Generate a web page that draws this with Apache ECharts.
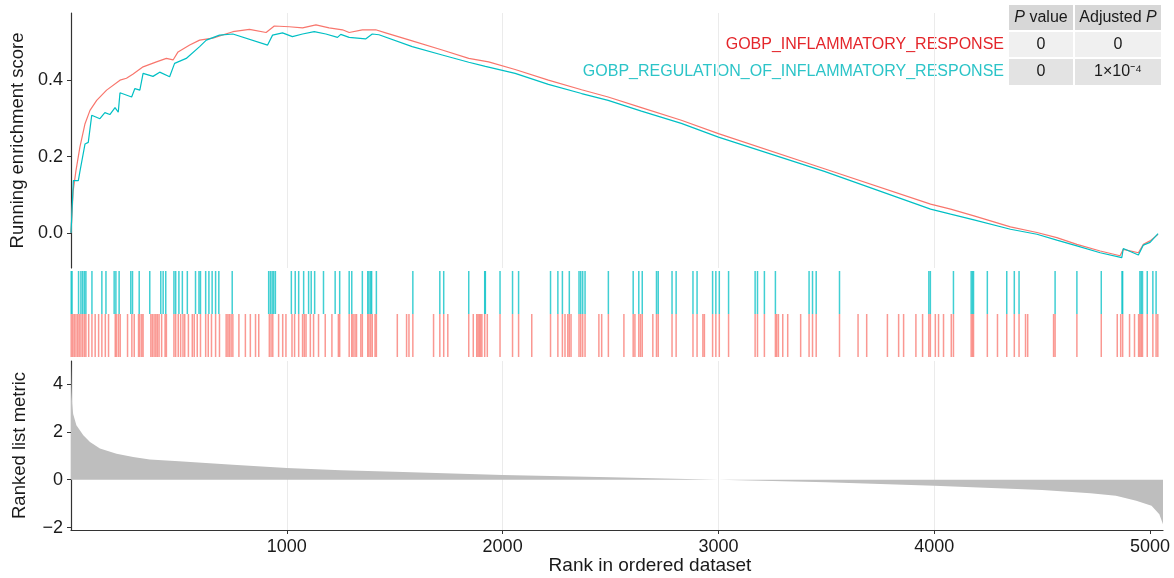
<!DOCTYPE html>
<html>
<head>
<meta charset="utf-8">
<script src="https://cdn.jsdelivr.net/npm/echarts@6/dist/echarts.min.js"></script>
<style>
  html, body { margin: 0; padding: 0; background: #fff; }
  #chart { width: 1174px; height: 578px; }
</style>
</head>
<body>
<div id="chart"></div>
<script>
// Gene set names and their test statistics
const setNames = ['GOBP_INFLAMMATORY_RESPONSE', 'GOBP_REGULATION_OF_INFLAMMATORY_RESPONSE'];
const pValues = ['0', '0'];
const adjPValues = ['0', '1×10⁻⁴'];

// Running enrichment score, [rank, score]
const esInflammatory = [
  [0,0],[10,0.11],[23,0.163],[41,0.224],[65,0.286],[88,0.321],[119,0.347],[165,0.374],[227,0.40],
  [257,0.405],[288,0.416],[334,0.435],[396,0.448],[442,0.457],[473,0.453],[496,0.474],[550,0.492],
  [596,0.505],[657,0.51],[750,0.527],[827,0.533],[904,0.525],[942,0.542],[1011,0.540],[1073,0.537],
  [1135,0.545],[1196,0.537],[1258,0.532],[1289,0.525],[1350,0.532],[1412,0.532],[1458,0.524],
  [1581,0.503],[1720,0.479],[1843,0.457],[1935,0.448],[2058,0.428],[2212,0.400],[2366,0.375],
  [2489,0.356],[2643,0.328],[2828,0.295],[3000,0.26],[3491,0.168],[3983,0.0754],[4076,0.0623],
  [4184,0.0447],[4353,0.0158],[4476,0.0009],[4568,-0.0123],[4661,-0.03],[4769,-0.0474],[4861,-0.06],
  [4876,-0.043],[4946,-0.052],[4969,-0.030],[5000,-0.021],[5037,-0.004]
];
const esRegulation = [
  [0,0],[11,0.137],[34,0.137],[41,0.16],[65,0.233],[80,0.237],[96,0.308],[134,0.299],[157,0.315],
  [180,0.31],[204,0.328],[219,0.316],[227,0.367],[281,0.356],[296,0.378],[319,0.374],[334,0.418],
  [380,0.41],[411,0.421],[457,0.409],[480,0.444],[534,0.457],[596,0.488],[627,0.505],[688,0.518],
  [750,0.521],[911,0.492],[934,0.518],[980,0.524],[1026,0.514],[1073,0.521],[1127,0.527],[1181,0.521],
  [1235,0.512],[1250,0.52],[1289,0.512],[1365,0.508],[1396,0.521],[1427,0.519],[1581,0.488],
  [1720,0.466],[1843,0.447],[1920,0.436],[2058,0.418],[2212,0.389],[2366,0.365],[2489,0.347],
  [2643,0.319],[2828,0.287],[3000,0.251],[3491,0.161],[3983,0.0623],[4076,0.049],[4184,0.0342],
  [4353,0.0096],[4476,-0.0035],[4568,-0.019],[4661,-0.034],[4769,-0.052],[4869,-0.065],[4876,-0.041],
  [4946,-0.058],[4969,-0.032],[5000,-0.025],[5037,-0.002]
];

// Ranks of the genes belonging to each set
const hitsRegulation = [
  1,5,35,46,54,62,69,97,143,162,200,208,223,277,285,316,365,416,427,439,477,485,500,516,539,577,593,
  600,624,639,654,670,685,747,916,924,932,939,947,1021,1039,1055,1078,1101,1113,1129,1170,1224,1245,
  1289,1301,1350,1375,1381,1389,1393,1415,1584,1709,1727,1843,1917,1920,1988,2046,2074,2222,2256,
  2277,2309,2354,2362,2371,2382,2490,2605,2631,2647,2713,2721,2785,2804,2882,2901,2973,2988,3004,
  3047,3170,3181,3213,3264,3420,3436,3453,3561,3975,3982,4089,4171,4177,4182,4246,4336,4371,4393,
  4560,4661,4774,4870,4873,4953,4959,4965,4987,5013,5028
];
const hitsInflammatory = [
  1,8,15,23,31,38,46,54,62,69,82,97,112,128,143,159,174,205,211,220,228,262,282,293,313,319,328,334,
  370,377,385,393,400,408,420,436,442,477,485,497,508,519,527,544,562,571,585,600,624,636,651,670,
  688,719,727,734,742,750,778,808,831,855,870,919,927,935,962,981,996,1024,1036,1055,1073,1081,1089,
  1109,1124,1147,1178,1209,1239,1245,1289,1301,1307,1316,1323,1343,1350,1375,1381,1389,1396,1409,
  1415,1512,1555,1566,1584,1680,1709,1727,1746,1843,1864,1880,1886,1892,1898,1904,1917,1929,1988,
  2046,2074,2135,2222,2256,2277,2289,2302,2309,2317,2354,2362,2371,2382,2446,2459,2490,2562,2605,
  2613,2631,2639,2647,2696,2713,2721,2785,2804,2882,2901,2928,2935,2973,2988,3004,3047,3170,3181,
  3213,3264,3270,3278,3298,3321,3381,3420,3436,3453,3561,3647,3687,3783,3835,3858,3915,3946,3975,
  3982,4005,4020,4043,4079,4089,4171,4177,4182,4246,4293,4336,4371,4393,4423,4433,4553,4560,4661,
  4774,4848,4864,4873,4905,4928,4947,4953,4959,4965,4987,5013,5028,5036
];

// Ranked list metric, [rank, metric]
const rankedMetric = [
  [0,4.95],[2,4.0],[5,3.2],[10,2.75],[25,2.28],[57,1.86],[88,1.58],[134,1.30],[211,1.09],[288,0.95],
  [365,0.85],[500,0.77],[750,0.63],[1000,0.49],[1250,0.40],[1500,0.33],[2000,0.20],[2500,0.10],
  [3000,0.0],[3500,-0.11],[4000,-0.25],[4500,-0.43],[4724,-0.56],[4842,-0.67],[4936,-0.88],
  [5007,-1.09],[5043,-1.44],[5060,-1.86]
];

// Axis ticks
const rankTicks = [1000, 2000, 3000, 4000, 5000];
const esTicks = [0, 0.2, 0.4];
const metricTicks = [-2, 0, 2, 4];

const RED = '#F8766D';
const CYAN = '#00BFC4';
const RED_TEXT = '#E4262B';
const CYAN_TEXT = '#2CC4C8';
const FONT = '"Liberation Sans", Arial, sans-serif';
const AXIS_COLOR = '#333333';
const GRID_COLOR = '#EBEBEB';
const N_RANKS = 5060;

const chart = echarts.init(document.getElementById('chart'), null, { renderer: 'canvas' });

const gridBox = { left: 71, right: 11 };

function rankAxis(gridIndex, showGrid, showLabels) {
  return {
    type: 'value', gridIndex, min: 0, max: N_RANKS, interval: 500,
    axisLine: { show: showLabels, onZero: false, lineStyle: { color: AXIS_COLOR, width: 1.2 } },
    axisTick: { show: showLabels, length: 4, customValues: rankTicks, lineStyle: { color: AXIS_COLOR } },
    axisLabel: {
      show: showLabels, customValues: rankTicks, margin: 8,
      color: '#1a1a1a', fontSize: 18, fontFamily: FONT,
      formatter: v => String(v)
    },
    splitLine: { show: showGrid, showMaxLine: false, lineStyle: { color: GRID_COLOR, width: 1 } }
  };
}

function hitSeries(hits, color, lo, hi) {
  return {
    type: 'custom', xAxisIndex: 1, yAxisIndex: 1,
    data: hits.map(r => [r]),
    encode: { x: 0 },
    silent: true,
    renderItem: (params, api) => {
      const a = api.coord([api.value(0), lo]);
      const b = api.coord([api.value(0), hi]);
      return {
        type: 'line',
        shape: { x1: a[0], y1: a[1], x2: b[0], y2: b[1] },
        style: { stroke: color, lineWidth: 1.5, opacity: 0.75 }
      };
    }
  };
}

// Table of p-values at the top right
const tableCols = [{ x: 1009, w: 64 }, { x: 1075, w: 86 }];
const tableRows = [{ y: 5, h: 25, fill: '#D7D7D7' }, { y: 32, h: 25, fill: '#F0F0F0' }, { y: 59, h: 26, fill: '#E3E3E3' }];
const graphics = [];
tableRows.forEach(row => {
  tableCols.forEach(col => {
    graphics.push({ type: 'rect', shape: { x: col.x, y: row.y, width: col.w, height: row.h }, style: { fill: row.fill }, silent: true });
  });
});
const cellText = (col, row, text, rich) => ({
  type: 'text',
  x: tableCols[col].x + tableCols[col].w / 2,
  y: tableRows[row].y + tableRows[row].h / 2,
  style: {
    text, rich: rich || {}, align: 'center', verticalAlign: 'middle',
    fontSize: 16, fontFamily: FONT, fill: '#1a1a1a'
  },
  silent: true
});
const italicRich = { i: { fontStyle: 'italic', fontSize: 16, fontFamily: FONT, fill: '#1a1a1a' } };
graphics.push(cellText(0, 0, '{i|P} value', italicRich));
graphics.push(cellText(1, 0, 'Adjusted {i|P}', italicRich));
graphics.push(cellText(0, 1, pValues[0]));
graphics.push(cellText(1, 1, adjPValues[0]));
graphics.push(cellText(0, 2, pValues[1]));
graphics.push(cellText(1, 2, adjPValues[1]));
[RED_TEXT, CYAN_TEXT].forEach((c, i) => {
  graphics.push({
    type: 'text', x: 1004, y: tableRows[i + 1].y + tableRows[i + 1].h / 2,
    style: { text: setNames[i], align: 'right', verticalAlign: 'middle', fontSize: 16, fontFamily: FONT, fill: c },
    silent: true
  });
});
// x-axis title
graphics.push({
  type: 'text', x: 650, y: 566,
  style: { text: 'Rank in ordered dataset', align: 'center', verticalAlign: 'middle', fontSize: 19, fontFamily: FONT, fill: '#1a1a1a' },
  silent: true
});

const option = {
  backgroundColor: '#ffffff',
  animation: false,
  grid: [
    { ...gridBox, top: 13, height: 255 },
    { ...gridBox, top: 271, height: 86 },
    { ...gridBox, top: 361, height: 169 }
  ],
  xAxis: [rankAxis(0, true, false), rankAxis(1, false, false), rankAxis(2, true, true)],
  yAxis: [
    {
      type: 'value', gridIndex: 0, min: -0.092, max: 0.576,
      axisLine: { show: true, lineStyle: { color: AXIS_COLOR, width: 1.2 } },
      axisTick: { show: true, length: 4, customValues: esTicks, lineStyle: { color: AXIS_COLOR } },
      axisLabel: { customValues: esTicks, margin: 8, color: '#1a1a1a', fontSize: 18, fontFamily: FONT, formatter: v => v.toFixed(1) },
      splitLine: { show: false },
      name: 'Running enrichment score', nameLocation: 'middle', nameGap: 42, nameRotate: 90,
      nameTextStyle: { color: '#1a1a1a', fontSize: 18.5, fontFamily: FONT }
    },
    { type: 'value', gridIndex: 1, min: 0, max: 2, show: false },
    {
      type: 'value', gridIndex: 2, min: -2.1, max: 4.96,
      axisLine: { show: true, onZero: false, lineStyle: { color: AXIS_COLOR, width: 1.2 } },
      axisTick: { show: true, length: 4, customValues: metricTicks, lineStyle: { color: AXIS_COLOR } },
      axisLabel: {
        customValues: metricTicks, margin: 8, color: '#1a1a1a', fontSize: 18, fontFamily: FONT,
        formatter: v => String(v).replace('-', '\u2212')
      },
      splitLine: { show: false },
      name: 'Ranked list metric', nameLocation: 'middle', nameGap: 42, nameRotate: 90,
      nameTextStyle: { color: '#1a1a1a', fontSize: 18.5, fontFamily: FONT }
    }
  ],
  series: [
    {
      type: 'line', xAxisIndex: 2, yAxisIndex: 2, data: rankedMetric, symbol: 'none',
      lineStyle: { width: 0 }, areaStyle: { color: '#BEBEBE', opacity: 1, origin: 0 }, silent: true
    },
    hitSeries(hitsRegulation, CYAN, 1, 2),
    hitSeries(hitsInflammatory, RED, 0, 1),
    {
      type: 'line', xAxisIndex: 0, yAxisIndex: 0, data: esInflammatory, symbol: 'none',
      lineStyle: { color: RED, width: 1.2 }, silent: true
    },
    {
      type: 'line', xAxisIndex: 0, yAxisIndex: 0, data: esRegulation, symbol: 'none',
      lineStyle: { color: CYAN, width: 1.2 }, silent: true
    }
  ],
  graphic: graphics
};

chart.setOption(option);
</script>
</body>
</html>
